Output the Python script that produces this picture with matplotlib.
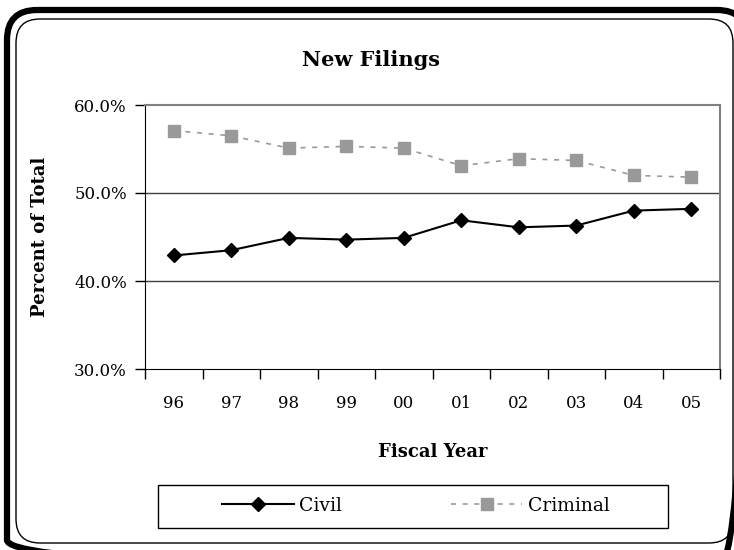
import matplotlib.pyplot as plt
from matplotlib.patches import FancyBboxPatch, Rectangle
from matplotlib.ticker import FuncFormatter

plt.rcParams['font.family'] = ['DejaVu Serif']

years = ['96', '97', '98', '99', '00', '01', '02', '03', '04', '05']
civil = [42.9, 43.5, 44.9, 44.7, 44.9, 46.9, 46.1, 46.3, 48.0, 48.2]
criminal = [57.1, 56.5, 55.1, 55.3, 55.1, 53.1, 53.9, 53.7, 52.0, 51.8]

W, H = 734, 550
fig = plt.figure(figsize=(W / 100, H / 100), dpi=100)

# rounded frame and legend box drawn in pixel units
bg = fig.add_axes([0, 0, 1, 1], zorder=-1)
bg.set_xlim(0, W)
bg.set_ylim(H, 0)
bg.axis('off')
bg.add_patch(FancyBboxPatch((7, 10), 740, 560, boxstyle='round,pad=0,rounding_size=30',
                            fill=False, lw=4.5, ec='black'))
bg.add_patch(FancyBboxPatch((16, 19), 717, 524, boxstyle='round,pad=0,rounding_size=24',
                            fill=False, lw=1, ec='black'))
bg.add_patch(Rectangle((158, 485), 510, 43, fill=False, lw=1, ec='black'))

ax = fig.add_axes([145 / W, 1 - 369 / H, (720 - 145) / W, (369 - 105) / H])
x = list(range(len(years)))
ax.plot(x, civil, color='black', lw=1.5, marker='D', markersize=7, label='Civil')
ax.plot(x, criminal, color='#999999', lw=1.2, ls=(0, (3, 4)), marker='s', markersize=8,
        markeredgecolor='#999999', label='Criminal')

ax.set_ylim(30, 60)
ax.set_xlim(-0.5, len(years) - 0.5)
ax.set_yticks([30, 40, 50, 60])
ax.yaxis.set_major_formatter(FuncFormatter(lambda v, p: f'{v:.1f}%'))
ax.set_xticks(x)
ax.set_xticklabels(years)
ax.tick_params(axis='x', which='major', length=0, pad=19, labelsize=12)
ax.set_xticks([i - 0.5 for i in range(len(years) + 1)], minor=True)
ax.tick_params(axis='x', which='minor', length=7, width=1, direction='out')
ax.tick_params(axis='y', length=7, width=1, direction='out', pad=6, labelsize=12)

for v in [40, 50]:
    ax.axhline(v, color='#404040', lw=1, zorder=0)
ax.spines['left'].set_color('black')
ax.spines['bottom'].set_color('black')
ax.spines['top'].set_color('#808080')
ax.spines['right'].set_color('#808080')
ax.spines['top'].set_linewidth(1.5)
ax.spines['right'].set_linewidth(1.5)

fig.text(371 / W, 1 - 60 / H, 'New Filings', ha='center', va='center', fontsize=15, fontweight='bold')
fig.text(40 / W, 1 - 237 / H, 'Percent of Total', ha='center', va='center', rotation=90,
         fontsize=13, fontweight='bold')
fig.text(433 / W, 1 - 452 / H, 'Fiscal Year', ha='center', va='center', fontsize=13, fontweight='bold')

fig.legend(loc='center', bbox_to_anchor=(416 / W, 1 - 506 / H), ncol=2, fontsize=13.5,
           frameon=False, handlelength=3.8, handletextpad=0.3, columnspacing=5.8)

fig.savefig('out.png', dpi=100)
